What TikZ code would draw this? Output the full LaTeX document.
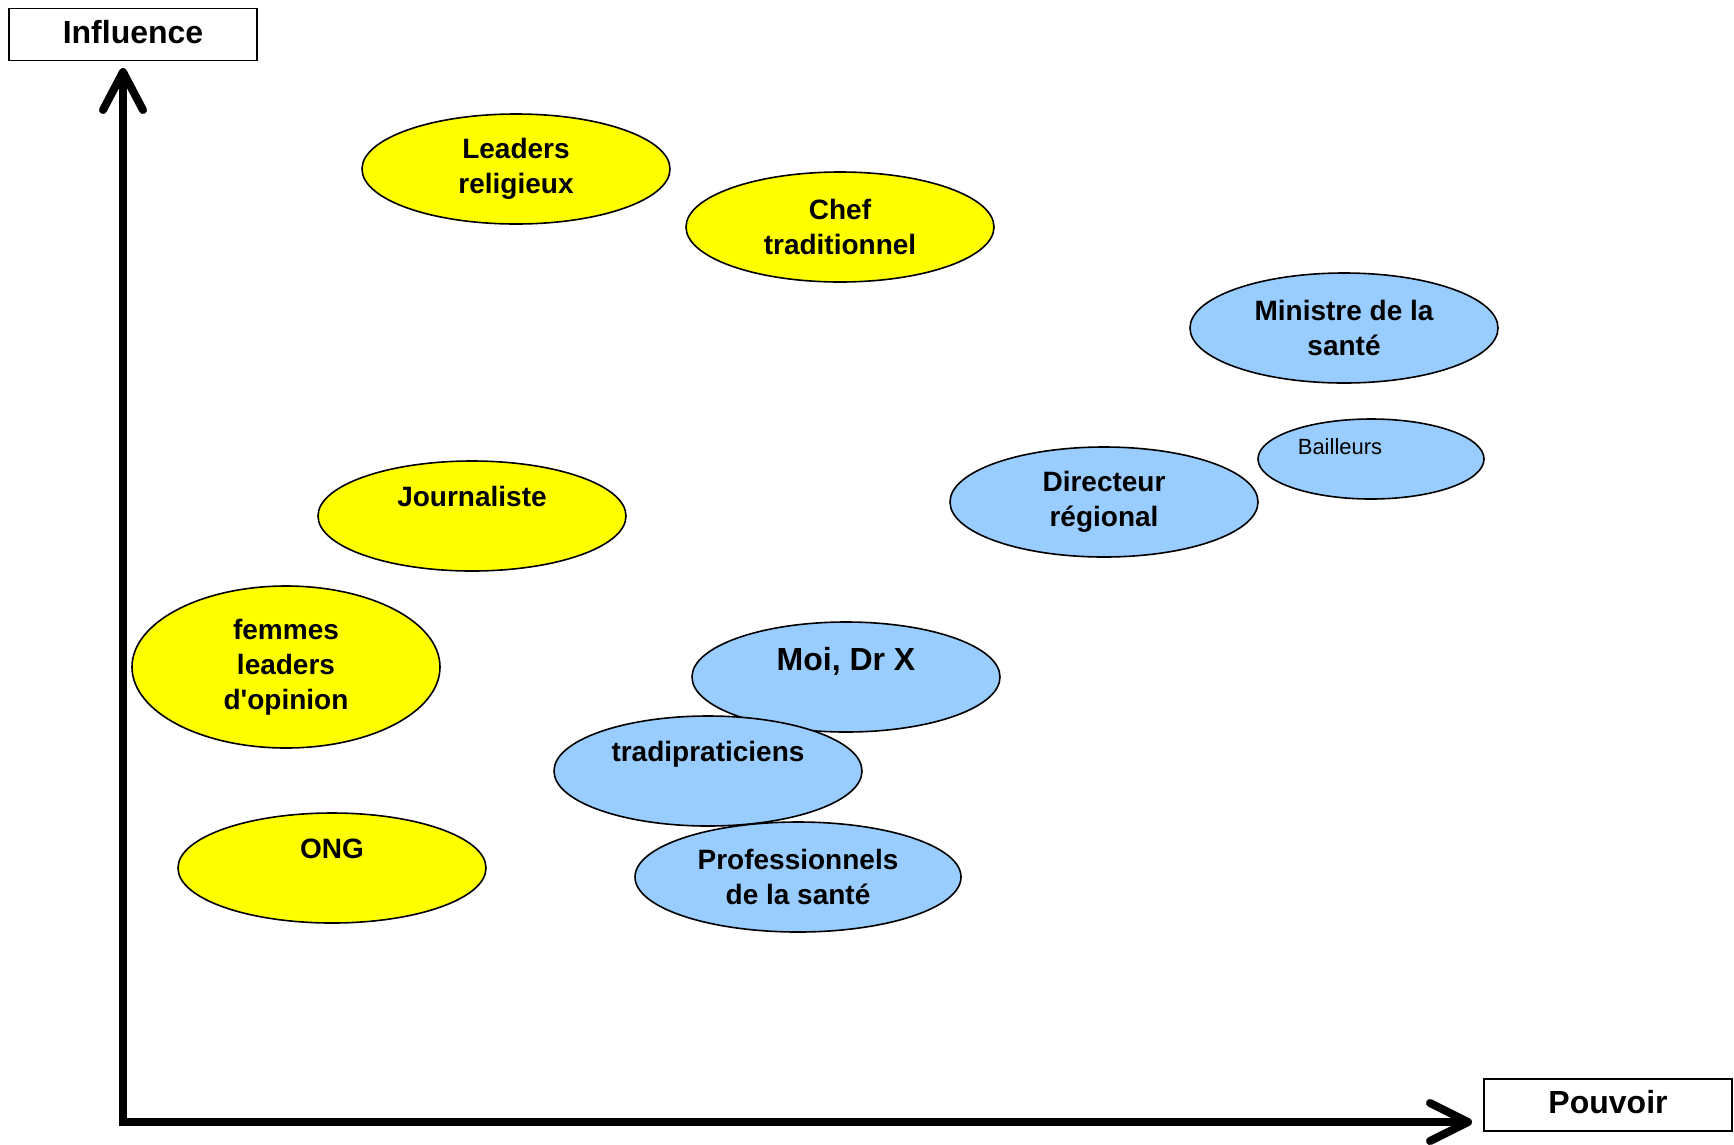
\documentclass[tikz,border=0pt]{standalone}
\usepackage{fontspec}
\setmainfont{Liberation Sans}
\usetikzlibrary{shapes.geometric}
\definecolor{ylw}{HTML}{FFFF00}
\definecolor{blu}{HTML}{99CCFF}
\begin{document}
\begin{tikzpicture}[x=1pt,y=-1pt,
  oval/.style={ellipse, draw=black, line width=1.6pt, minimum width=308pt, minimum height=110pt,
    inner sep=0pt, align=center, font=\fontsize{28}{35}\selectfont\bfseries},
  yoval/.style={oval, fill=ylw},
  boval/.style={oval, fill=blu},
  axisline/.style={line width=8pt, line join=miter},
  headline/.style={line width=8pt, line cap=round, line join=round},
  labelbox/.style={draw=black, line width=1.6pt, minimum width=248pt, minimum height=52pt,
    inner sep=0pt, text depth=6pt, font=\fontsize{32}{38}\selectfont\bfseries}]
\useasboundingbox (0,0) rectangle (1734,1144);
% axis labels
\node[labelbox] (infl) at (133,34.5) {Influence};
\node[labelbox] (pouv) at (1608,1105) {Pouvoir};
% axes
\coordinate (O) at (123,1122);
\coordinate (ytip) at (123,72);
\coordinate (xtip) at (1468,1122);
\draw[axisline] (ytip) -- (O) -- (xtip);
\draw[headline] (ytip) ++(-20,38) -- (ytip) -- ++(20,38);
\draw[headline] (xtip) ++(-38,-19) -- (xtip) -- ++(-38,19);
% stakeholders
\node[yoval] (lead) at (516,169) {Leaders\\religieux};
\node[yoval] (chef) at (840,227) {Chef\\traditionnel};
\node[boval] (mini) at (1344,328) {Ministre de la\\sant\'e};
\node[boval, minimum width=226pt, minimum height=80pt] (bail) at (1371,459) {};
\node[font=\fontsize{22}{26}\selectfont] (bailtxt) at (1340,447) {Bailleurs};
\node[boval] (dir) at (1104,502) {Directeur\\r\'egional};
\node[yoval] (jour) at (472,516) {Journaliste\\[-6pt]\strut};
\node[yoval, minimum height=162pt] (fem) at (286,667) {femmes\\leaders\\d\textquotesingle opinion};
\node[yoval] (ong) at (332,868) {ONG\\[-6pt]\strut};
\node[boval, font=\fontsize{32}{35}\selectfont\bfseries] (moi) at (846,677) {Moi, Dr X\\[-10pt]\strut};
\node[boval] (trad) at (708,771) {tradipraticiens\\[-6pt]\strut};
\node[boval, minimum width=326pt] (prof) at (798,877) {Professionnels\\de la sant\'e};
\end{tikzpicture}
\end{document}
